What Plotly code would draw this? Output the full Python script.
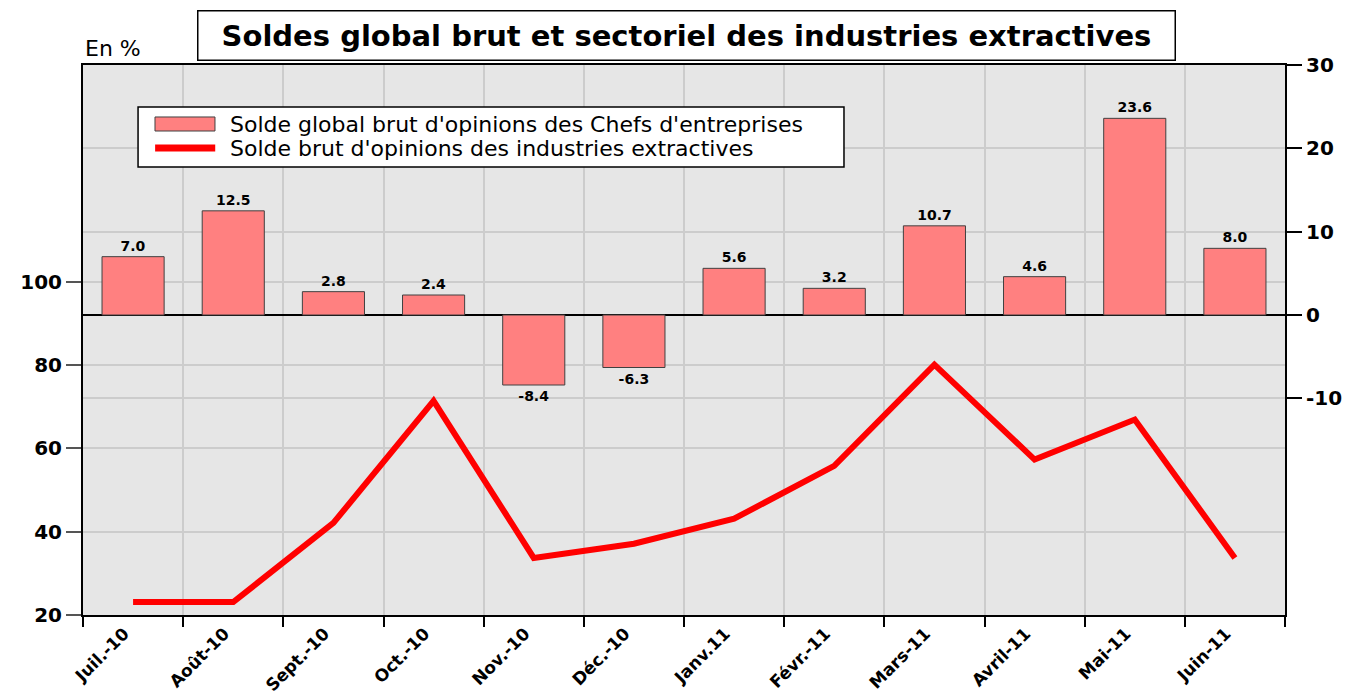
import plotly.graph_objects as go

months = ["Juil.-10", "Août-10", "Sept.-10", "Oct.-10", "Nov.-10", "Déc.-10",
          "Janv.11", "Févr.-11", "Mars-11", "Avril-11", "Mai-11", "Juin-11"]

# solde global (axe de droite)
global_vals = [7.0, 12.5, 2.8, 2.4, -8.4, -6.3, 5.6, 3.2, 10.7, 4.6, 23.6, 8.0]
# industries extractives (axe de gauche)
extract_vals = [23.1, 23.1, 42.1, 71.4, 33.7, 37.1, 43.1, 55.8, 80.1, 57.3, 66.9, 33.7]

left_ticks = [20, 40, 60, 80, 100]
right_ticks = [-10, 0, 10, 20, 30]

name_bar = "Solde global brut d'opinions des Chefs d'entreprises"
name_line = "Solde brut d'opinions des industries extractives"

FONT = "DejaVu Sans, Arial, sans-serif"
BAR_COLOR = "#FF8080"
LINE_COLOR = "#FF0000"

bars = go.Bar(
    x=months, y=global_vals, yaxis="y2", name=name_bar,
    marker=dict(color=BAR_COLOR, line=dict(color="#404040", width=1)),
    width=0.62,
    texttemplate="%{y:.1f}", textposition="outside", cliponaxis=False,
    textfont=dict(family=FONT, size=14, color="black", weight="bold"),
)
line = go.Scatter(
    x=months, y=extract_vals, yaxis="y", mode="lines", name=name_line,
    line=dict(color=LINE_COLOR, width=6),
)

# legend drawn by hand to get the wide swatches of the original
legend_shapes = [
    dict(type="rect", xref="paper", yref="paper", x0=0.0458, x1=0.6331, y0=0.8145, y1=0.9236,
         fillcolor="white", line=dict(color="black", width=1.5)),
    dict(type="rect", xref="paper", yref="paper", x0=0.0599, x1=0.1098, y0=0.880, y1=0.9055,
         fillcolor=BAR_COLOR, line=dict(color="#404040", width=1)),
    dict(type="line", xref="paper", yref="paper", x0=0.0600, x1=0.1100, y0=0.849, y1=0.849,
         line=dict(color=LINE_COLOR, width=7)),
]
legend_texts = [
    dict(text=name_bar, xref="paper", yref="paper", x=0.1206, y=0.8927,
         xanchor="left", yanchor="middle", showarrow=False, font=dict(size=22)),
    dict(text=name_line, xref="paper", yref="paper", x=0.1206, y=0.849,
         xanchor="left", yanchor="middle", showarrow=False, font=dict(size=22)),
]

layout = go.Layout(
    width=1366, height=693,
    margin=dict(l=75, r=89, t=57, b=86),
    paper_bgcolor="white", plot_bgcolor="#E6E6E6",
    font=dict(family=FONT, color="black"),
    showlegend=False,
    xaxis=dict(
        type="category", tickson="boundaries", automargin=False,
        ticks="outside", ticklen=10, tickcolor="black", tickwidth=2,
        tickangle=-45, tickfont=dict(size=17, weight="bold"), ticklabelshift=-9,
        showgrid=True, gridcolor="#CCCCCC", gridwidth=1.5,
        showline=True, linecolor="black", linewidth=2, mirror=True,
        range=[-0.5, 11.5],
    ),
    yaxis=dict(
        range=[20, 152], tickvals=left_ticks, automargin=False,
        ticks="outside", ticklen=15, tickcolor="#555555", tickwidth=2,
        tickfont=dict(size=20, weight="bold"),
        showgrid=True, gridcolor="#CCCCCC", gridwidth=1.5,
        showline=True, linecolor="black", linewidth=2,
        zeroline=False,
    ),
    yaxis2=dict(
        range=[-36, 30], tickvals=right_ticks, ticktext=[str(v) for v in right_ticks],
        overlaying="y", side="right", automargin=False,
        ticks="outside", ticklen=15, tickcolor="black", tickwidth=1.5,
        tickfont=dict(size=20, weight="bold"),
        showgrid=True, gridcolor="#CCCCCC", gridwidth=1.5,
        showline=True, linecolor="black", linewidth=2,
        zeroline=True, zerolinecolor="black", zerolinewidth=1.5,
    ),
    shapes=legend_shapes,
    annotations=[
        dict(text="Soldes global brut et sectoriel des industries extractives",
             xref="paper", yref="paper", x=0.502, y=1.0, xanchor="center", yanchor="bottom",
             yshift=4, showarrow=False, bgcolor="white", bordercolor="black", borderwidth=1.5,
             borderpad=7, width=962, height=34,
             font=dict(size=29, weight="bold")),
        dict(text="En %", xref="paper", yref="paper", x=0.0, y=1.0,
             xanchor="left", yanchor="bottom", yshift=2, showarrow=False,
             font=dict(size=22)),
    ] + legend_texts,
)

fig = go.Figure(data=[bars, line], layout=layout)
fig.write_html("out.html")
